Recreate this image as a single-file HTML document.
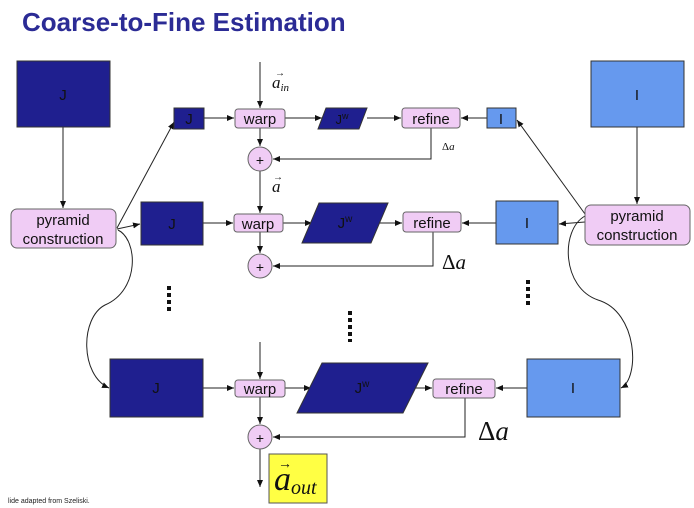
<!DOCTYPE html>
<html><head><style>
body{margin:0;background:#fff;width:694px;height:508px;overflow:hidden;font-family:"Liberation Sans",sans-serif}
svg{position:absolute;left:0;top:0}
</style></head><body>
<svg width="694" height="508" viewBox="0 0 694 508" font-family="Liberation Sans, sans-serif">
<defs><marker id="ar" markerWidth="8" markerHeight="8" refX="7" refY="3" orient="auto" markerUnits="userSpaceOnUse"><path d="M0,0 L7,3 L0,6z" fill="#111"/></marker></defs>
<text x="22" y="31" font-size="26" font-weight="bold" fill="#2b2b95">Coarse-to-Fine Estimation</text>
<g stroke="#222" stroke-width="1" fill="none">
<line x1="63" y1="127" x2="63" y2="208" marker-end="url(#ar)"/>
<line x1="637" y1="127" x2="637" y2="204" marker-end="url(#ar)"/>
<line x1="117" y1="228" x2="174" y2="122" marker-end="url(#ar)"/>
<line x1="117" y1="229" x2="140" y2="224" marker-end="url(#ar)"/>
<line x1="585" y1="214" x2="517" y2="120" marker-end="url(#ar)"/>
<line x1="585" y1="222" x2="559" y2="224" marker-end="url(#ar)"/>
<path d="M118,230 C138,240 140,290 105,305 C80,318 80,375 109,388" marker-end="url(#ar)"/>
<path d="M585,216 C560,230 562,288 598,300 C638,312 640,378 621,388" marker-end="url(#ar)"/>
<line x1="260" y1="62" x2="260" y2="108" marker-end="url(#ar)"/>
<line x1="204" y1="118" x2="234" y2="118" marker-end="url(#ar)"/>
<line x1="285" y1="118" x2="322" y2="118" marker-end="url(#ar)"/>
<line x1="367" y1="118" x2="401" y2="118" marker-end="url(#ar)"/>
<line x1="487" y1="118" x2="461" y2="118" marker-end="url(#ar)"/>
<line x1="260" y1="128" x2="260" y2="146" marker-end="url(#ar)"/>
<polyline points="431,128 431,159 273,159" marker-end="url(#ar)"/>
<line x1="260" y1="171" x2="260" y2="213" marker-end="url(#ar)"/>
<line x1="203" y1="223" x2="233" y2="223" marker-end="url(#ar)"/>
<line x1="283" y1="223" x2="312" y2="223" marker-end="url(#ar)"/>
<line x1="378" y1="223" x2="402" y2="223" marker-end="url(#ar)"/>
<line x1="496" y1="223" x2="462" y2="223" marker-end="url(#ar)"/>
<line x1="260" y1="232" x2="260" y2="253" marker-end="url(#ar)"/>
<polyline points="433,232 433,266 273,266" marker-end="url(#ar)"/>
<line x1="260" y1="342" x2="260" y2="379" marker-end="url(#ar)"/>
<line x1="203" y1="388" x2="234" y2="388" marker-end="url(#ar)"/>
<line x1="285" y1="388" x2="311" y2="388" marker-end="url(#ar)"/>
<line x1="411" y1="388" x2="432" y2="388" marker-end="url(#ar)"/>
<line x1="527" y1="388" x2="496" y2="388" marker-end="url(#ar)"/>
<line x1="260" y1="397" x2="260" y2="424" marker-end="url(#ar)"/>
<polyline points="465,398 465,437 273,437" marker-end="url(#ar)"/>
<line x1="260" y1="449" x2="260" y2="487" marker-end="url(#ar)"/>
</g>
<g stroke="#333" stroke-width="1">
<rect x="17" y="61" width="93" height="66" fill="#1f1f8f"/>
<rect x="591" y="61" width="93" height="66" fill="#6699ee"/>
<rect x="174" y="108" width="30" height="21" fill="#1f1f8f"/>
<rect x="487" y="108" width="29" height="20" fill="#6699ee"/>
<rect x="141" y="202" width="62" height="43" fill="#1f1f8f"/>
<rect x="496" y="201" width="62" height="43" fill="#6699ee"/>
<rect x="110" y="359" width="93" height="58" fill="#1f1f8f"/>
<rect x="527" y="359" width="93" height="58" fill="#6699ee"/>
<polygon points="326,108 367,108 359,129 318,129" fill="#1f1f8f"/>
<polygon points="319,203 388,203 371,243 302,243" fill="#1f1f8f"/>
<polygon points="322,363 428,363 403,413 297,413" fill="#1f1f8f"/>
</g>
<g fill="#f0ccf5" stroke="#666" stroke-width="1">
<rect x="11" y="209" width="105" height="39" rx="6"/>
<rect x="585" y="205" width="105" height="40" rx="6"/>
<rect x="235" y="109" width="50" height="19" rx="3"/>
<rect x="402" y="108" width="58" height="20" rx="3"/>
<rect x="234" y="214" width="49" height="18" rx="3"/>
<rect x="403" y="212" width="58" height="20" rx="3"/>
<rect x="235" y="380" width="50" height="17" rx="3"/>
<rect x="433" y="379" width="62" height="19" rx="3"/>
<circle cx="260" cy="159" r="12"/>
<circle cx="260" cy="266" r="12"/>
<circle cx="260" cy="437" r="12"/>
</g>
<rect x="269" y="454" width="58" height="49" fill="#ffff44" stroke="#555"/>
<g font-size="15" fill="#111" text-anchor="middle">
<text x="63" y="100">J</text><text x="637" y="100">I</text>
<text x="189" y="124">J</text><text x="501" y="124">I</text>
<text x="172" y="229">J</text><text x="527" y="228">I</text>
<text x="156" y="393">J</text><text x="573" y="393">I</text>
<text x="342" y="124" font-size="13">J<tspan font-size="9" dy="-5">w</tspan></text>
<text x="345" y="228">J<tspan font-size="10" dy="-6">w</tspan></text>
<text x="362" y="393">J<tspan font-size="10" dy="-6">w</tspan></text>
<text x="260" y="124">warp</text><text x="431" y="124">refine</text>
<text x="258" y="229">warp</text><text x="432" y="228">refine</text>
<text x="260" y="394">warp</text><text x="464" y="394">refine</text>
<text x="63" y="225">pyramid</text><text x="63" y="244">construction</text>
<text x="637" y="221">pyramid</text><text x="637" y="240">construction</text>
<text x="260" y="165" font-size="14">+</text>
<text x="260" y="272" font-size="14">+</text>
<text x="260" y="443" font-size="14">+</text>
</g>
<g font-family="Liberation Serif, serif" font-style="italic" fill="#111">
<text x="272" y="88" font-size="17">a<tspan font-size="11" dy="3">in</tspan></text>
<text x="275" y="76" font-size="10" font-style="normal">→</text>
<text x="272" y="192" font-size="17">a</text><text x="273" y="180" font-size="10" font-style="normal">→</text>
<text x="442" y="150" font-size="11"><tspan font-style="normal">Δ</tspan>a</text>
<text x="442" y="269" font-size="21"><tspan font-style="normal">Δ</tspan>a</text>
<text x="478" y="440" font-size="27"><tspan font-style="normal">Δ</tspan>a</text>
<text x="274" y="490" font-size="34">a<tspan font-size="20" dy="4">out</tspan></text>
<text x="278" y="468" font-size="14" font-style="normal">→</text>
</g>
<g fill="#111">
<rect x="167" y="286" width="4" height="4"/><rect x="167" y="293" width="4" height="4"/><rect x="167" y="300" width="4" height="4"/><rect x="167" y="307" width="4" height="4"/>
<rect x="348" y="311" width="4" height="4"/><rect x="348" y="318" width="4" height="4"/><rect x="348" y="325" width="4" height="4"/><rect x="348" y="332" width="4" height="4"/><rect x="348" y="339" width="4" height="3"/>
<rect x="526" y="280" width="4" height="4"/><rect x="526" y="287" width="4" height="4"/><rect x="526" y="294" width="4" height="4"/><rect x="526" y="301" width="4" height="4"/>
</g>
<text x="8" y="503" font-size="7" fill="#222">lide adapted from Szeliski.</text>
</svg>
</body></html>
